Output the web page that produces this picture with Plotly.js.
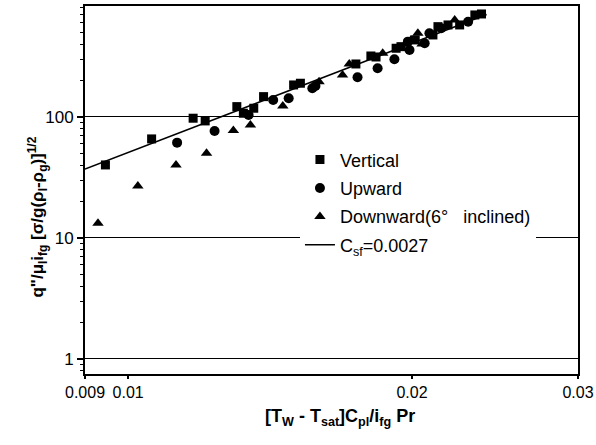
<!DOCTYPE html>
<html>
<head>
<meta charset="utf-8">
<script src="https://cdn.plot.ly/plotly-3.0.1.min.js"></script>
<style>
html,body{margin:0;padding:0;background:#fff;}
#chart{width:596px;height:445px;}
</style>
</head>
<body>
<div id="chart"></div>
<script>
// Vertical (squares)
const vertX = [0.00946, 0.01059, 0.01172, 0.01207, 0.01304, 0.01325, 0.01359, 0.01392, 0.01498, 0.01523, 0.01744, 0.01809, 0.01832, 0.01924, 0.01947, 0.02016, 0.02105, 0.02131, 0.02184, 0.02247, 0.02332, 0.0237];
const vertY = [40.1, 65.8, 97.6, 92.7, 121.7, 107.3, 118, 147.2, 183.8, 189.9, 274, 319, 313, 369.6, 381, 433, 476, 557.6, 575.9, 575.9, 696.6, 709.8];
// Upward (circles)
const upX = [0.01127, 0.01235, 0.01342, 0.01425, 0.0148, 0.01568, 0.0158, 0.01751, 0.01839, 0.01916, 0.0198, 0.01988, 0.02063, 0.02087, 0.02148, 0.02294];
const upY = [61.3, 76.6, 103.9, 138.2, 142.7, 172.6, 180.4, 212.9, 252.6, 299.8, 419, 357.9, 406.4, 491.7, 540.8, 613];
// Downward 6° inclined (triangles)
const downX = [0.00929, 0.01024, 0.01124, 0.01211, 0.01293, 0.01348, 0.01459, 0.01594, 0.01688, 0.01716, 0.01862, 0.01995, 0.0205, 0.02029, 0.0222];
const downY = [13.2, 26.9, 40.1, 50.1, 77.1, 85.9, 123.3, 195.7, 222.3, 274.2, 336, 433, 401, 491.7, 633.6];
// Correlation line Csf = 0.0027 (end points)
const fitX = [0.009, 0.024];
const fitY = [37.0, 702.3];

const xTicks = [0.009, 0.01, 0.02, 0.03];
const xTickText = ['0.009', '0.01', '0.02', '0.03'];
const yTicks = [1, 10, 100];
const yTickText = ['1', '10', '100'];
const yMinor = [0.8, 0.9, 2, 3, 4, 5, 6, 7, 8, 9, 20, 30, 40, 50, 60, 70, 80, 90, 200, 300, 400, 500, 600, 700, 800];

const FONT = 'Liberation Sans, Arial, Helvetica, sans-serif';

const traces = [
  {x: vertX, y: vertY, type: 'scatter', mode: 'markers', name: 'Vertical', legendgroup: 'a',
   marker: {symbol: 'square', size: 9, color: '#000'}},
  {x: upX, y: upY, type: 'scatter', mode: 'markers', name: 'Upward', legendgroup: 'b',
   marker: {symbol: 'circle', size: 10, color: '#000'}},
  {x: downX, y: downY, type: 'scatter', mode: 'markers', name: 'Downward(6°\u00a0\u00a0\u00a0inclined)', legendgroup: 'c',
   marker: {symbol: 'triangle-up', size: 10, color: '#000'}},
  {x: fitX, y: fitY, type: 'scatter', mode: 'lines', name: 'C<sub>sf</sub>=0.0027', legendgroup: 'd',
   line: {color: '#000', width: 1.5}}
];

const layout = {
  width: 596, height: 445,
  margin: {l: 85, r: 18, t: 6, b: 71},
  paper_bgcolor: '#fff', plot_bgcolor: '#fff',
  font: {family: FONT, size: 16, color: '#000'},
  showlegend: true,
  legend: {x: 0.436, y: 0.632, xanchor: 'left', yanchor: 'top',
           bgcolor: '#fff', borderwidth: 0, font: {size: 18, family: FONT},
           tracegroupgap: 2},
  xaxis: {type: 'log', range: [Math.log10(0.009), Math.log10(0.03)],
          tickvals: xTicks, ticktext: xTickText, ticks: 'outside', ticklen: 3, tickwidth: 1.5,
          tickcolor: '#000', showgrid: false, zeroline: false,
          showline: true, linecolor: '#000', linewidth: 2, mirror: true,
          tickfont: {size: 16, family: FONT}},
  yaxis: {type: 'log', range: [Math.log10(0.75), Math.log10(826)],
          tickvals: yTicks, ticktext: yTickText, ticks: 'outside', ticklen: 6, tickwidth: 1.5,
          tickcolor: '#000', showgrid: true, gridcolor: '#000', gridwidth: 1, zeroline: false,
          showline: true, linecolor: '#000', linewidth: 2, mirror: true,
          minor: {tickvals: yMinor, ticks: 'outside', ticklen: 3, tickcolor: '#000', tickwidth: 1, showgrid: false},
          tickfont: {size: 17, family: FONT}},
  annotations: [
    {text: '<b>[T<sub>W</sub> - T<sub>sat</sub>]C<sub>pl</sub>/i<sub>fg</sub> Pr</b>',
     xref: 'paper', yref: 'paper', x: 0.517, y: -0.118, xanchor: 'center', yanchor: 'middle',
     showarrow: false, font: {size: 18, family: FONT}},
    {text: '<b>q"/μ<sub>l</sub>i<sub>fg</sub> [σ/g(ρ<sub>l</sub>-ρ<sub>g</sub>)]<sup>1/2</sup></b>',
     xref: 'paper', yref: 'paper', x: -0.096, y: 0.427, xanchor: 'center', yanchor: 'middle',
     textangle: -90, showarrow: false, font: {size: 17, family: FONT}}
  ],
  shapes: [{type: 'line', xref: 'x', yref: 'paper', x0: Math.log10(0.01), x1: Math.log10(0.01),
            y0: 0, y1: 1, line: {color: '#000', width: 1}, layer: 'below'}]
};

Plotly.newPlot('chart', traces, layout, {displayModeBar: false, staticPlot: true});
</script>
</body>
</html>
